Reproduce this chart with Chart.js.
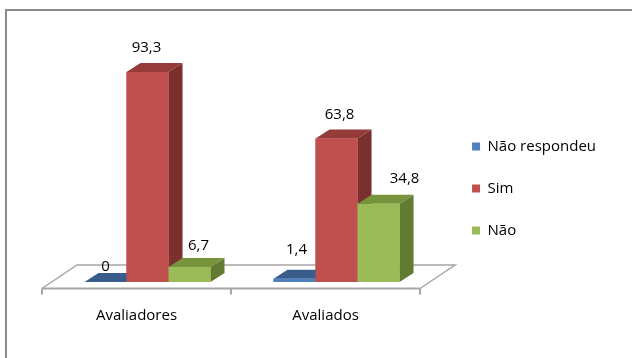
<!DOCTYPE html>
<html><head><meta charset="utf-8">
<script src="https://cdn.jsdelivr.net/npm/chart.js@4.4.1/dist/chart.umd.min.js"></script>
<style>html,body{margin:0;padding:0;background:#fff;overflow:hidden}</style>
</head><body>
<canvas id="c" width="632" height="358"></canvas>
<script>
// ---- data ----
const categories = ['Avaliadores', 'Avaliados'];
const seriesNames = ['Não respondeu', 'Sim', 'Não'];
const naoRespondeu = [0, 1.4];
const sim = [93.3, 63.8];
const nao = [6.7, 34.8];

// ---- styles ----
const FONT = "'Open Sans', 'DejaVu Sans', sans-serif";
const frontColors = ['#4F81BD', '#C0504D', '#9BBB59'];
const topColors = ['#385D8A', '#953B39', '#77933C'];
const sideColors = ['#2E4F78', '#7A302E', '#627A32'];
const DEPTH_X = 14, DEPTH_Y = 9;
// label offsets relative to bar front top-centre [dataset][category]
const labelNudge = [[[-2, 9], [0, -5]], [[-3, 0], [1, 0]], [[7, 3], [24, -1]]];

const fmt = v => String(v).replace('.', ',');

const bgPlugin = {
  id: 'bg',
  afterInit(chart) {
    // let the right-hand legend take its natural width
    const lg = chart.legend;
    if (lg && !lg._wideFit) {
      const orig = lg.fit;
      lg.fit = function () { this.maxWidth = 1000; return orig.call(this); };
      lg._wideFit = true;
    }
  },
  beforeDraw(chart) {
    const ctx = chart.ctx;
    ctx.save();
    ctx.fillStyle = '#fff';
    ctx.fillRect(0, 0, chart.width, chart.height);
    ctx.strokeStyle = '#8c8c8c';
    ctx.lineWidth = 2;
    ctx.strokeRect(6, 10, chart.width + 20, chart.height + 20);
    ctx.restore();
  }
};

const floorPlugin = {
  id: 'floor3d',
  beforeDatasetsDraw(chart) {
    const {ctx, chartArea: a, scales} = chart;
    const fy = a.bottom + 6.5, by = a.bottom - 17;
    const fl = a.left - 11, fr = a.right - 11;
    const bl = a.left + 24, br = a.right + 24;
    ctx.save();
    ctx.strokeStyle = '#a6a6a6';
    ctx.lineWidth = 1.5;
    ctx.beginPath();
    ctx.moveTo(fl, fy); ctx.lineTo(bl, by); ctx.lineTo(br, by); ctx.lineTo(fr, fy);
    ctx.stroke();
    ctx.lineWidth = 2;
    ctx.beginPath();
    ctx.moveTo(fl, fy); ctx.lineTo(fr, fy);
    const n = scales.x.ticks.length;
    for (let i = 0; i <= n; i++) {
      const tx = fl + (fr - fl) * i / n;
      ctx.moveTo(tx, fy); ctx.lineTo(tx, fy + 6);
    }
    ctx.stroke();
    ctx.restore();
  }
};

const bar3dPlugin = {
  id: 'bar3d',
  afterDatasetsDraw(chart) {
    const ctx = chart.ctx;
    const items = [];
    chart.data.datasets.forEach((ds, di) => {
      const meta = chart.getDatasetMeta(di);
      meta.data.forEach((el, i) => items.push({el, di, i}));
    });
    items.sort((p, q) => p.el.x - q.el.x);
    ctx.save();
    items.forEach(({el, di}) => {
      const {x, y, base, width} = el.getProps(['x', 'y', 'base', 'width'], true);
      const x0 = x - width / 2, x1 = x + width / 2;
      ctx.fillStyle = sideColors[di];
      ctx.beginPath();
      ctx.moveTo(x1, y); ctx.lineTo(x1 + DEPTH_X, y - DEPTH_Y);
      ctx.lineTo(x1 + DEPTH_X, base - DEPTH_Y); ctx.lineTo(x1, base);
      ctx.closePath(); ctx.fill();
      ctx.fillStyle = topColors[di];
      ctx.beginPath();
      ctx.moveTo(x0, y); ctx.lineTo(x1, y);
      ctx.lineTo(x1 + DEPTH_X, y - DEPTH_Y); ctx.lineTo(x0 + DEPTH_X, y - DEPTH_Y);
      ctx.closePath(); ctx.fill();
      el.draw(ctx, chart.chartArea);
    });
    ctx.fillStyle = '#000';
    ctx.font = '15px ' + FONT;
    ctx.textAlign = 'center';
    ctx.textBaseline = 'middle';
    items.forEach(({el, di, i}) => {
      const {x, y} = el.getProps(['x', 'y'], true);
      const v = chart.data.datasets[di].data[i];
      const n = labelNudge[di][i];
      ctx.fillText(fmt(v), x + 2 + n[0], y - 24 + n[1]);
    });
    ctx.restore();
  }
};

const seriesData = [naoRespondeu, sim, nao];
function build() {
  new Chart(document.getElementById('c'), {
    type: 'bar',
    data: {
      labels: categories,
      datasets: seriesNames.map((name, k) => ({
        label: name,
        data: seriesData[k],
        backgroundColor: frontColors[k],
        borderWidth: 0,
        categoryPercentage: 0.6667,
        barPercentage: 1.0
      }))
    },
    options: {
      responsive: false,
      animation: false,
      devicePixelRatio: 1,
      layout: {padding: {left: 53, right: 26, top: 27, bottom: 8}},
      plugins: {
        tooltip: {enabled: false},
        legend: {
          position: 'right',
          labels: {
            boxWidth: 8, boxHeight: 8, padding: 27,
            color: '#000',
            font: {family: FONT, size: 15}
          }
        }
      },
      scales: {
        x: {
          grid: {display: false, drawTicks: false},
          border: {display: false},
          ticks: {padding: 25, labelOffset: -11, color: '#000', font: {family: FONT, size: 15}}
        },
        y: {
          position: 'right',
          min: 0, max: 113.3,
          grid: {display: false, drawTicks: false},
          border: {display: false},
          ticks: {display: false},
          afterFit(s) { s.width = 14; }
        }
      }
    },
    plugins: [bgPlugin, floorPlugin, bar3dPlugin]
  });
}
const loads = document.fonts && document.fonts.load
  ? Promise.all([document.fonts.load("14px 'Open Sans'"), document.fonts.load("15px 'Open Sans'")])
  : Promise.resolve();
loads.then(build, build);
</script>
</body></html>
